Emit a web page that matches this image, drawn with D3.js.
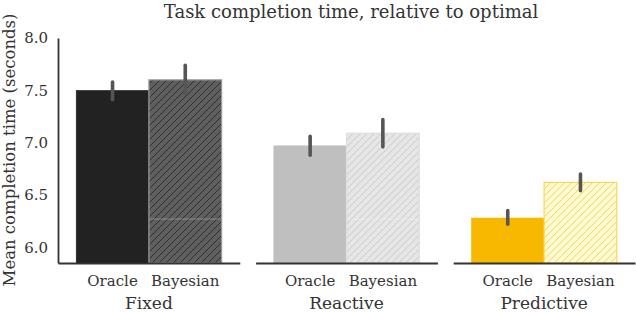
<!DOCTYPE html>
<html>
<head>
<meta charset="utf-8">
<script src="https://cdn.jsdelivr.net/npm/d3@7"></script>
<style>
body { margin: 0; background: #fff; }
text { font-family: "DejaVu Serif", serif; fill: #333; }
</style>
</head>
<body>
<script>
var width = 636, height = 312;

var conditions = ['Fixed', 'Reactive', 'Predictive'];
var methods = ['Oracle', 'Bayesian'];
var means = [[7.50, 7.60], [6.97, 7.09], [6.28, 6.62]];
var ciLow = [[7.41, 7.47], [6.88, 6.96], [6.22, 6.54]];
var ciHigh = [[7.58, 7.74], [7.06, 7.22], [6.35, 6.70]];
var yTicks = [6.0, 6.5, 7.0, 7.5, 8.0];

var solid = ['#222222', '#bfbfbf', '#f8b800'];
var hatchFill = ['#5f5f5f', '#e6e6e6', '#fffbd4'];
var hatchLine = ['#2a2a2a', '#c4c4c4', '#f6cc3a'];
var hatchEdge = ['#9a9a9a', '#dedede', '#fcd45a'];

var margin = {left: 58, right: 1, top: 38, bottom: 49};

var svg = d3.select('body').append('svg')
    .attr('width', width)
    .attr('height', height);

var y = d3.scaleLinear()
    .domain([5.85, 8.0])
    .range([height - margin.bottom, margin.top]);

// facets
var facet = d3.scaleBand()
    .domain(conditions)
    .range([margin.left, width - margin.right])
    .paddingInner(0.08);

var x = d3.scaleBand()
    .domain(methods)
    .range([0, facet.bandwidth()])
    .paddingOuter(0.25);

var defs = svg.append('defs');
conditions.forEach(function(c, i) {
    var p = defs.append('pattern')
        .attr('id', 'hatch' + i)
        .attr('patternUnits', 'userSpaceOnUse')
        .attr('width', 7).attr('height', 7);
    p.append('rect').attr('width', 7).attr('height', 7).attr('fill', hatchFill[i]);
    p.append('path')
        .attr('d', 'M-1,8 L8,-1 M-1,1 L1,-1 M6,8 L8,6')
        .attr('stroke', hatchLine[i])
        .attr('stroke-width', 0.9);
});

svg.append('text')
    .attr('x', 351)
    .attr('y', 18)
    .attr('text-anchor', 'middle')
    .style('font-size', '18px')
    .text('Task completion time, relative to optimal');

svg.append('text')
    .attr('transform', 'translate(15,150) rotate(-90)')
    .attr('text-anchor', 'middle')
    .style('font-size', '16.5px')
    .text('Mean completion time (seconds)');

var yAxis = svg.append('g')
    .attr('transform', 'translate(' + margin.left + ',0)')
    .call(d3.axisLeft(y).tickValues(yTicks).tickFormat(d3.format('.1f')).tickSize(0).tickPadding(10));
yAxis.select('.domain').attr('stroke', '#333').attr('stroke-width', 1.8);
yAxis.selectAll('text').style('font-size', '15px').style('font-family', '"DejaVu Serif", serif').attr('fill', '#333');

var panels = svg.selectAll('.panel')
    .data(conditions).enter()
    .append('g')
    .attr('class', 'panel')
    .attr('transform', function(d) { return 'translate(' + facet(d) + ',0)'; });

panels.each(function(cond, i) {
    var g = d3.select(this);
    var rows = methods.map(function(m, j) {
        return {m: m, j: j, v: means[i][j], lo: ciLow[i][j], hi: ciHigh[i][j]};
    });

    g.selectAll('rect.bar')
        .data(rows).enter()
        .append('rect')
        .attr('class', 'bar')
        .attr('x', function(d) { return x(d.m); })
        .attr('width', x.bandwidth())
        .attr('y', function(d) { return y(d.v); })
        .attr('height', function(d) { return y.range()[0] - y(d.v); })
        .attr('fill', function(d) { return d.j === 0 ? solid[i] : 'url(#hatch' + i + ')'; })
        .attr('stroke', function(d) { return d.j === 0 ? solid[i] : hatchEdge[i]; })
        .attr('stroke-width', function(d) { return d.j === 0 ? 0.5 : 1.2; });

    // faint grid artefact showing through the hatched bars
    var hb = rows[1];
    g.append('line')
        .attr('x1', x(hb.m) + 1).attr('x2', x(hb.m) + x.bandwidth() - 1)
        .attr('y1', y(6.27)).attr('y2', y(6.27))
        .attr('stroke', '#fff').attr('stroke-opacity', 0.3).attr('stroke-width', 1);

    g.selectAll('line.err')
        .data(rows).enter()
        .append('line')
        .attr('class', 'err')
        .attr('x1', function(d) { return x(d.m) + x.bandwidth() / 2; })
        .attr('x2', function(d) { return x(d.m) + x.bandwidth() / 2; })
        .attr('y1', function(d) { return y(d.lo); })
        .attr('y2', function(d) { return y(d.hi); })
        .attr('stroke', '#555')
        .attr('stroke-width', 3.6)
        .attr('stroke-linecap', 'round');

    var xAxis = g.append('g')
        .attr('transform', 'translate(0,' + y.range()[0] + ')')
        .call(d3.axisBottom(x).tickSize(0).tickPadding(12));
    xAxis.select('.domain').attr('stroke', '#333').attr('stroke-width', 1.8);
    xAxis.selectAll('text').style('font-size', '15px').style('font-family', '"DejaVu Serif", serif').attr('fill', '#333');

    g.append('text')
        .attr('x', facet.bandwidth() / 2)
        .attr('y', 309)
        .attr('text-anchor', 'middle')
        .style('font-size', '17px')
        .text(cond);
});
</script>
</body>
</html>
